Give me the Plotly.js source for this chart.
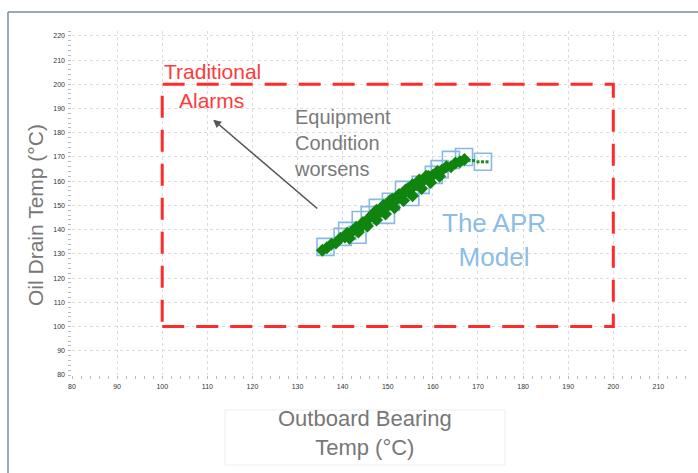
<!DOCTYPE html>
<html>
<head>
<meta charset="utf-8">
<script src="https://cdn.plot.ly/plotly-3.0.1.min.js"></script>
<style>html,body{margin:0;padding:0;background:#fff;}#chart{width:698px;height:473px;}</style>
</head>
<body>
<div id="chart"></div>
<script>
// Observed data (green)
const obsX = [135.5,136.5,137.5,138.5,139.5,140.5,141,142,143,143.5,144.5,145,146,147,147.5,148.5,149,150,151,151.5,152.5,153,154,155,155.5,156.5,157,158,159,160,161,162,163,164,165,166,167,
              141.5,143.5,145.5,147.5,149.5,151.5,153.5,155.5,157.5,159.5,161.5,146.5,150.5,154.5,158.5];
const obsY = [131.5,132.5,134,134.5,136.5,137,138.5,139,141,140,143,142.5,145,145.5,148,147.5,150,150,152.5,151.5,154.5,154,156.5,156.5,158.5,158.5,160.5,160.5,162,162.5,164,164.5,166,166,167.5,168,169,
              136.5,139,141.5,144,146.5,149,152,154,157,159.5,162,146,152,157,162];
// Trailing dotted observations
const tailX = [168,169,170,171,172];
const tailY = [168.5,168.5,168,168,168];
// APR model points (blue squares)
const aprX = [136.2,140,141,143.3,144,146,147.8,149.6,150.7,153.6,155,157.3,160.2,161.5,164,166.9,171.1];
const aprY = [132.9,137,139.5,137.9,144,146,149,146.1,151.5,156.4,153.5,158.5,162.6,165,168.8,170,168];
// Alarm box limits
const alarmX = [100,200];
const alarmY = [100,200];
// Tick values
const xTicks = [80,90,100,110,120,130,140,150,160,170,180,190,200,210];
const yTicks = [80,90,100,110,120,130,140,150,160,170,180,190,200,210,220];

const font = "Liberation Sans, Arial, sans-serif";

const traces = [
  {x: aprX, y: aprY, mode: 'markers', type: 'scatter',
   marker: {symbol: 'square-open', size: 17, color: '#86b9e6', line: {width: 1.6, color: '#86b9e6'}},
   hoverinfo: 'skip'},
  {x: obsX, y: obsY, mode: 'markers', type: 'scatter',
   marker: {symbol: 'diamond', size: 10, color: '#0f840f'}, hoverinfo: 'skip'},
  {x: tailX, y: tailY, mode: 'markers', type: 'scatter',
   marker: {symbol: 'square', size: 3, color: '#1a8c1a'}, hoverinfo: 'skip'}
];

const axisCommon = {
  showgrid: true, gridcolor: '#dcdcdc', griddash: 'dot', gridwidth: 1,
  zeroline: false, showline: false,
  tickfont: {family: font, size: 7, color: '#333'},
  ticks: '',
  minor: {dtick: 2, ticks: 'outside', ticklen: 3, tickcolor: '#bbb', showgrid: false}
};

const layout = {
  width: 698, height: 473,
  margin: {l: 72, r: 8, t: 31, b: 98},
  paper_bgcolor: '#fff', plot_bgcolor: '#fff',
  showlegend: false,
  font: {family: font},
  xaxis: Object.assign({}, axisCommon, {range: [80, 217], tickvals: xTicks, ticktext: xTicks.map(String), ticklabelstandoff: 6}),
  yaxis: Object.assign({}, axisCommon, {range: [80, 222], tickvals: yTicks, ticktext: yTicks.map(String), ticklabelstandoff: 6}),
  shapes: [
    {type: 'rect', xref: 'x', yref: 'y', x0: alarmX[0], x1: alarmX[1], y0: alarmY[0], y1: alarmY[1],
     line: {color: '#ff2b2b', width: 3, dash: '22px,12px'}},
    {type: 'line', xref: 'paper', yref: 'paper', x0: -64/618, x1: 1.02, y0: 1 + 19/344, y1: 1 + 19/344,
     line: {color: '#7b8c9c', width: 1.5}},
    {type: 'line', xref: 'paper', yref: 'paper', x0: -64/618, x1: -64/618, y0: 1 + 19/344, y1: -98/344,
     line: {color: '#7b8c9c', width: 1.5}},
    {type: 'rect', xref: 'paper', yref: 'paper', x0: 153/618, x1: 433/618, y0: -90/344, y1: -35/344,
     line: {color: '#eeeeee', width: 1}}
  ],
  annotations: [
    {x: alarmX[0], y: 205.2, xref: 'x', yref: 'y', text: 'Traditional', showarrow: false,
     xanchor: 'left', yanchor: 'middle', font: {family: font, size: 21, color: '#ff3a3a'}},
    {x: 103.3, y: 193.2, xref: 'x', yref: 'y', text: 'Alarms', showarrow: false,
     xanchor: 'left', yanchor: 'middle', font: {family: font, size: 21, color: '#ff3a3a'}},
    {x: 128.8, y: 175.9, xref: 'x', yref: 'y', text: 'Equipment<br>Condition<br>worsens', showarrow: false,
     xanchor: 'left', yanchor: 'middle', align: 'left', font: {family: font, size: 20, color: '#7a7a7a'}},
    {x: 111.3, y: 185.4, ax: 134.7, ay: 148.2, xref: 'x', yref: 'y', axref: 'x', ayref: 'y', text: '',
     showarrow: true, arrowhead: 2, arrowsize: 1, arrowwidth: 1.6, arrowcolor: '#555'},
    {x: 173.6, y: 135.8, xref: 'x', yref: 'y', text: 'The APR<br>Model', showarrow: false,
     xanchor: 'center', yanchor: 'middle', align: 'center', font: {family: font, size: 26, color: '#8cbde6'}},
    {x: (365-72)/618, y: -58/344, xref: 'paper', yref: 'paper', text: 'Outboard Bearing<br>Temp (°C)', showarrow: false,
     xanchor: 'center', yanchor: 'middle', align: 'center', font: {family: font, size: 22, color: '#777'}},
    {x: -37/618, y: (375-215)/344, xref: 'paper', yref: 'paper', text: 'Oil Drain Temp (°C)', showarrow: false,
     textangle: -90, xanchor: 'center', yanchor: 'middle', font: {family: font, size: 21, color: '#777'}}
  ]
};

Plotly.newPlot('chart', traces, layout, {displayModeBar: false, staticPlot: true});
</script>
</body>
</html>
